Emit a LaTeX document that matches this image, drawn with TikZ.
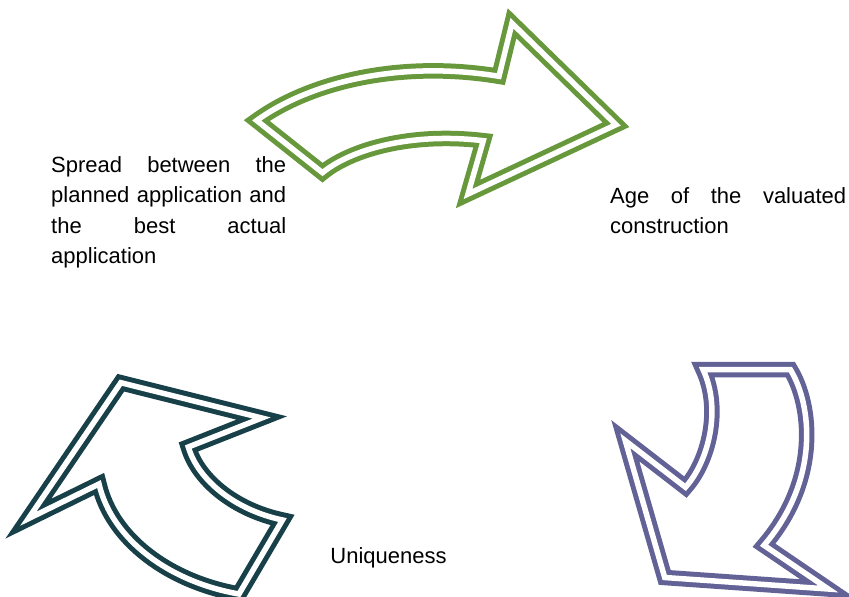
\documentclass[tikz,border=0pt]{standalone}
\usepackage{fontspec}
\setmainfont{Liberation Sans}
\usepackage{tikz}
\definecolor{leafgreen}{RGB}{104,152,60}
\definecolor{slatepurple}{RGB}{98,98,150}
\definecolor{deepteal}{RGB}{24,64,72}
\hyphenpenalty=10000
\exhyphenpenalty=10000
\begin{document}
\begin{tikzpicture}[x=1pt,y=-1pt,
    bend arrow/.style={double=white,line width=5pt,double distance=5.5pt,line join=miter},
    label text/.style={inner sep=0pt,font=\fontsize{22}{30.5}\selectfont}]
  \useasboundingbox (0,0) rectangle (849,597);
  \clip (0,0) rectangle (849,597);
  % top arrow
  \draw[bend arrow,leafgreen] (256.7,120.5) .. controls (310,82) and (400,60) .. (499,76.3)
      -- (512,23.3) -- (616,124.7) -- (468,194) -- (483.3,140.7)
      .. controls (410,132) and (350,150) .. (322.5,172.7) -- cycle;
  % right arrow
  \draw[bend arrow,slatepurple] (703,369.5) -- (790.3,369.5)
      .. controls (812,405) and (820,480) .. (764,545.3)
      -- (828.3,589) -- (664.7,577.5) -- (625.3,440.7) -- (685.5,487.2)
      .. controls (708,462) and (722,410) .. (703,369.5) -- cycle;
  % left arrow
  \draw[bend arrow,deepteal] (120.8,382.7) -- (261.7,418) -- (188.3,447)
      .. controls (198,480) and (235,510) .. (282.5,520) -- (239,594)
      .. controls (170,582) and (112,540) .. (99,484) -- (28.3,518.7) -- cycle;
  % labels
  \node[label text,anchor=north west,text width=235pt,align=justify] (spread) at (51,156)
      {Spread between the\linebreak planned application and\linebreak the best actual\linebreak application};
  \node[label text,anchor=north west,text width=236pt,align=justify] (age) at (610,187)
      {Age of the valuated\linebreak construction};
  \node[label text,anchor=base] (unique) at (388.5,563) {Uniqueness};
\end{tikzpicture}
\end{document}
